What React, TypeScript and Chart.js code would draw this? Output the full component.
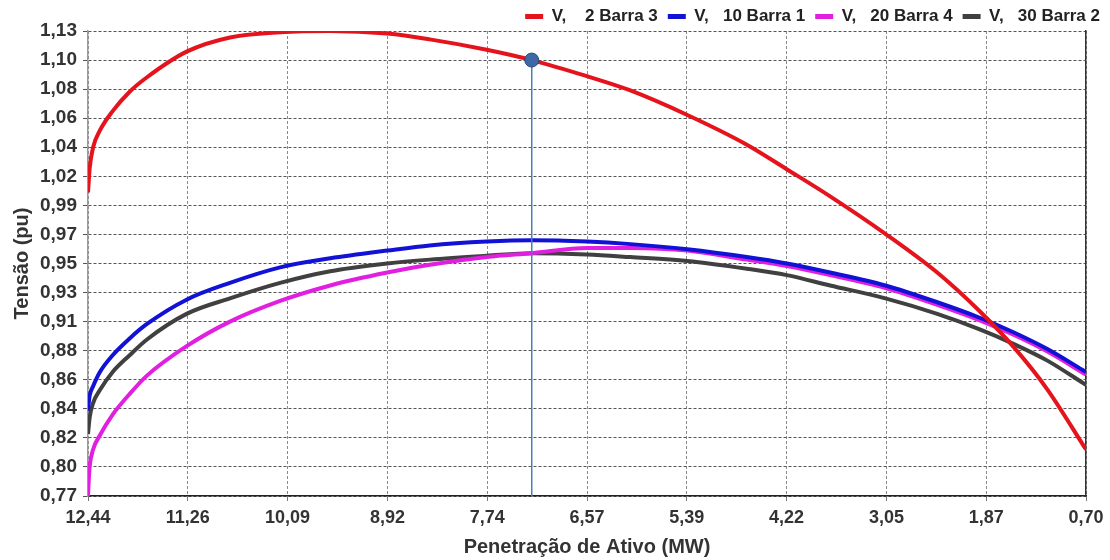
import React, { useEffect, useRef } from "react";
import { Chart, registerables } from "chart.js";

Chart.register(...registerables);

const xValues = [12.44, 12.43, 12.42, 12.38, 12.3, 12.15, 11.95, 11.75, 11.28, 10.77, 10.18, 9.59, 8.92, 8.42, 7.75, 7.22, 6.57, 6.06, 5.39, 4.69, 4.22, 3.71, 3.06, 2.45, 1.95, 1.56, 1.16, 0.7];

const seriesNames = ["V,    2 Barra 3", "V,   10 Barra 1", "V,   20 Barra 4", "V,   30 Barra 2"];
const seriesColors = ["#e5141c", "#1212d6", "#e11fe0", "#404040"];

const v2Barra3 = [1.005, 1.015, 1.024, 1.04, 1.053, 1.068, 1.083, 1.094, 1.114, 1.125, 1.129, 1.13, 1.128, 1.1235, 1.1155, 1.1075, 1.095, 1.084, 1.065, 1.042, 1.023, 1.002, 0.973, 0.943, 0.913, 0.886, 0.853, 0.806];
const v10Barra1 = [0.836, 0.843, 0.848, 0.855, 0.866, 0.879, 0.892, 0.903, 0.922, 0.935, 0.947, 0.954, 0.96, 0.964, 0.967, 0.968, 0.967, 0.965, 0.961, 0.955, 0.95, 0.943, 0.933, 0.92, 0.908, 0.897, 0.884, 0.866];
const v20Barra4 = [0.77, 0.784, 0.793, 0.806, 0.817, 0.833, 0.849, 0.863, 0.886, 0.905, 0.921, 0.933, 0.943, 0.949, 0.955, 0.958, 0.962, 0.962, 0.96, 0.953, 0.948, 0.941, 0.931, 0.918, 0.906, 0.895, 0.882, 0.864];
const v30Barra2 = [0.818, 0.825, 0.831, 0.842, 0.852, 0.866, 0.879, 0.891, 0.911, 0.923, 0.935, 0.944, 0.95, 0.953, 0.956, 0.958, 0.957, 0.955, 0.952, 0.946, 0.941, 0.933, 0.923, 0.911, 0.899, 0.888, 0.875, 0.856];

const seriesValues = [v2Barra3, v10Barra1, v20Barra4, v30Barra2];

const markerX = [7.22, 7.22];
const markerY = [1.1075, 0.77];

const yMin = 0.77;
const yStep = 0.0225;
const yLabels = ["0,77", "0,80", "0,82", "0,84", "0,86", "0,88", "0,91", "0,93", "0,95", "0,97", "0,99", "1,02", "1,04", "1,06", "1,08", "1,10", "1,13"];

const xMax = 12.44;
const xStep = 1.174;
const xLabels = ["12,44", "11,26", "10,09", "8,92", "7,74", "6,57", "5,39", "4,22", "3,05", "1,87", "0,70"];

const FONT = "'Liberation Sans', Arial, sans-serif";

export default function App() {
  const ref = useRef<HTMLCanvasElement | null>(null);

  useEffect(() => {
    if (!ref.current) return;
    const datasets: any[] = seriesValues.map((vals, i) => ({
      label: seriesNames[i],
      data: xValues.map((x, j) => ({ x, y: vals[j] })),
      borderColor: seriesColors[i],
      backgroundColor: seriesColors[i],
      borderWidth: 4,
      pointRadius: 0,
      cubicInterpolationMode: "monotone",
      order: i,
    }));
    datasets.push({
      label: "marker",
      data: markerX.map((x, j) => ({ x, y: markerY[j] })),
      borderColor: "#4a7ebb",
      backgroundColor: "#3b67a0",
      borderWidth: 1.5,
      pointRadius: [7, 0],
      pointBackgroundColor: "#3d6aa6",
      pointBorderColor: "#2a4b78",
      pointBorderWidth: 1,
      order: -1,
    });

    const chart = new Chart(ref.current, {
      type: "line",
      data: { datasets },
      options: {
        animation: false,
        responsive: false,
        layout: { padding: { left: 0, right: 0, top: -2, bottom: 0 } },
        plugins: {
          tooltip: { enabled: false },
          legend: {
            position: "top",
            align: "end",
            maxHeight: 33,
            labels: {
              boxWidth: 18,
              boxHeight: 5,
              padding: 10,
              color: "#222",
              font: { family: FONT, size: 17, weight: "bold" },
              generateLabels: (c: any) =>
                Chart.defaults.plugins.legend.labels
                  .generateLabels(c)
                  .filter((l: any) => l.datasetIndex < 4)
                  .map((l: any) => ({ ...l, lineWidth: 0 })),
            },
          },
        },
        scales: {
          x: {
            type: "linear",
            reverse: true,
            min: 0.7,
            max: 12.44,
            afterFit: (s: any) => {
              s.height = 64;
            },
            afterBuildTicks: (s: any) => {
              s.ticks = xLabels.map((_, i) => ({ value: xMax - i * xStep }));
            },
            ticks: {
              autoSkip: false,
              maxRotation: 0,
              padding: 6,
              color: "#333",
              font: { family: FONT, size: 18, weight: "bold" },
              callback: (_v: any, i: number) => xLabels[i],
            },
            grid: { color: "#8a8a8a", tickLength: 5, lineWidth: 1, tickColor: "#777" },
            border: { display: true, color: "#222", width: 1.5, dash: [3, 2] },
            title: {
              display: true,
              text: "Penetração de Ativo (MW)",
              color: "#333",
              font: { family: FONT, size: 20, weight: "bold" },
              padding: { top: 0, bottom: 1 },
            },
          },
          y: {
            type: "linear",
            min: 0.77,
            max: 1.13,
            afterFit: (s: any) => {
              s.width = 88;
            },
            afterBuildTicks: (s: any) => {
              s.ticks = yLabels.map((_, i) => ({ value: yMin + i * yStep }));
            },
            ticks: {
              autoSkip: false,
              padding: 6,
              color: "#333",
              font: { family: FONT, size: 19, weight: "bold" },
              callback: (_v: any, i: number) => yLabels[i],
            },
            grid: { color: "#555", tickLength: 5, lineWidth: 1, tickColor: "#555" },
            border: { display: true, color: "#999", width: 1.5, dash: [3, 2] },
            title: {
              display: true,
              text: "Tensão (pu)",
              color: "#333",
              font: { family: FONT, size: 20, weight: "bold" },
              padding: { top: 10, bottom: 0 },
            },
          },
          yRight: {
            type: "linear",
            position: "right",
            min: 0.77,
            max: 1.13,
            afterFit: (s: any) => {
              s.width = 24;
            },
            ticks: { display: false },
            grid: { display: false, drawOnChartArea: false },
            border: { display: true, color: "#333", width: 1.5 },
          },
        },
      } as any,
    });

    return () => chart.destroy();
  }, []);

  return (
    <div style={{ position: "absolute", left: 0, top: 0, width: 1110, height: 560, background: "#fff" }}>
      <canvas ref={ref} width={1110} height={560} />
    </div>
  );
}
